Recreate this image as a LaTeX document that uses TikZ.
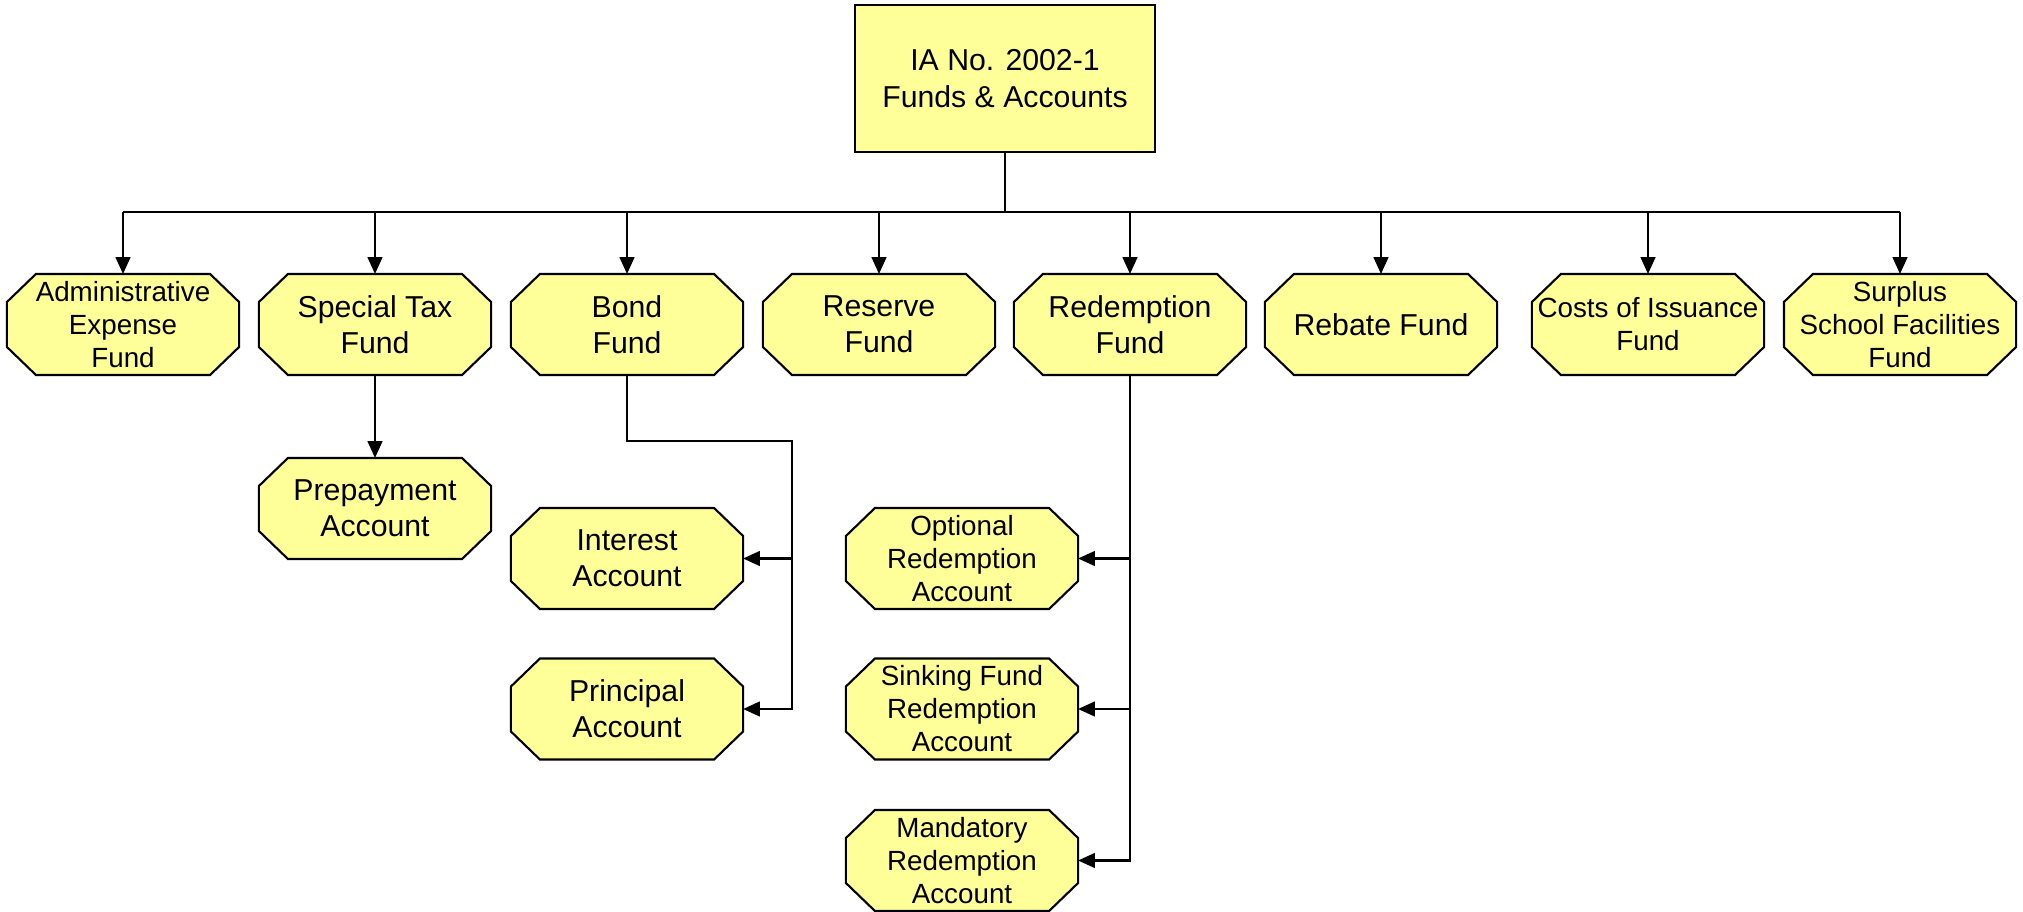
\documentclass[tikz,border=0pt]{standalone}
\usepackage{fontspec}
\setmainfont{Liberation Sans}
\usetikzlibrary{arrows.meta,backgrounds}
\definecolor{fundyellow}{RGB}{255,255,153}

\tikzset{
  fundbox/.style={rectangle, inner sep=0pt, outer sep=0pt,
    minimum width=2.32cm, minimum height=1.01cm, align=center,
    font=\fontsize{8.6}{10.2}\selectfont},
  fundsmall/.style={fundbox, font=\fontsize{7.9}{9.4}\selectfont},
  octline/.style={draw=black, fill=fundyellow, line width=0.6pt},
  topbox/.style={rectangle, draw=black, fill=fundyellow, line width=0.6pt,
    inner sep=0pt, outer sep=0pt, minimum width=3.0cm, minimum height=1.47cm,
    align=center, font=\fontsize{8.6}{10.6}\selectfont},
}

% 八边形边框 (按节点锚点画)
\newcommand{\octfund}[1]{%
  \draw[octline] ([xshift=2.9mm]#1.north west) -- ([xshift=-2.9mm]#1.north east)
    -- ([yshift=-2.8mm]#1.north east) -- ([yshift=2.8mm]#1.south east)
    -- ([xshift=-2.9mm]#1.south east) -- ([xshift=2.9mm]#1.south west)
    -- ([yshift=2.8mm]#1.south west) -- ([yshift=-2.8mm]#1.north west) -- cycle;}

\begin{document}
\begin{tikzpicture}[x=0.01cm, y=-0.01cm, >={Triangle[length=4.8pt, width=4.2pt]}, line width=0.6pt]
  \useasboundingbox (0,0) rectangle (2023,912);
  % --- 顶层 ---
  \node[topbox] (ia) at (1005,78.5) {IA No. 2002-1\\Funds \& Accounts};
  % --- 第一行基金 ---
  \node[fundsmall] (adm) at (123,324.5)  {Administrative\\Expense\\Fund};
  \node[fundbox]   (stf) at (375,324.5)  {Special Tax\\Fund};
  \node[fundbox]   (bnd) at (627,324.5)  {Bond\\Fund};
  \node[fundbox]   (res) at (879,324.5)  {Reserve\\Fund};
  \node[fundbox]   (red) at (1130,324.5) {Redemption\\Fund};
  \node[fundbox]   (reb) at (1381,324.5) {Rebate Fund};
  \node[fundsmall] (coi) at (1648,324.5) {Costs of Issuance\\Fund};
  \node[fundsmall] (sur) at (1900,324.5) {Surplus\\School Facilities\\Fund};
  % --- 下属账户 ---
  \node[fundbox]   (pre)  at (375,508.5)  {Prepayment\\Account};
  \node[fundbox]   (int)  at (627,558.5)  {Interest\\Account};
  \node[fundbox]   (pri)  at (627,709)    {Principal\\Account};
  \node[fundsmall] (opt)  at (962,558.5)  {Optional\\Redemption\\Account};
  \node[fundsmall] (sink) at (962,709)    {Sinking Fund\\Redemption\\Account};
  \node[fundsmall] (man)  at (962,860.5)  {Mandatory\\Redemption\\Account};
  \begin{scope}[on background layer]
    \foreach \n in {adm,stf,bnd,res,red,reb,coi,sur,pre,int,pri,opt,sink,man}
      {\octfund{\n}}
  \end{scope}
  % --- 总线与箭头 ---
  \coordinate (bus) at (1005,212);
  \draw (ia.south) -- (bus);
  \draw (adm.north |- bus) -- (sur.north |- bus);
  \foreach \n in {adm,stf,bnd,res,red,reb,coi,sur}
    \draw[->] (\n.north |- bus) -- (\n.north);
  \draw[->] (stf.south) -- (pre.north);
  % --- Bond 分支 ---
  \coordinate (bondknee) at (792,441);
  \draw[->] (bnd.south) |- (bondknee) |- (pri.east);
  \draw[->] (bondknee |- int.east) -- (int.east);
  % --- Redemption 分支 ---
  \draw[->] (red.south) |- (man.east);
  \draw[->] (red.south |- opt.east) -- (opt.east);
  \draw[->] (red.south |- sink.east) -- (sink.east);
\end{tikzpicture}
\end{document}
